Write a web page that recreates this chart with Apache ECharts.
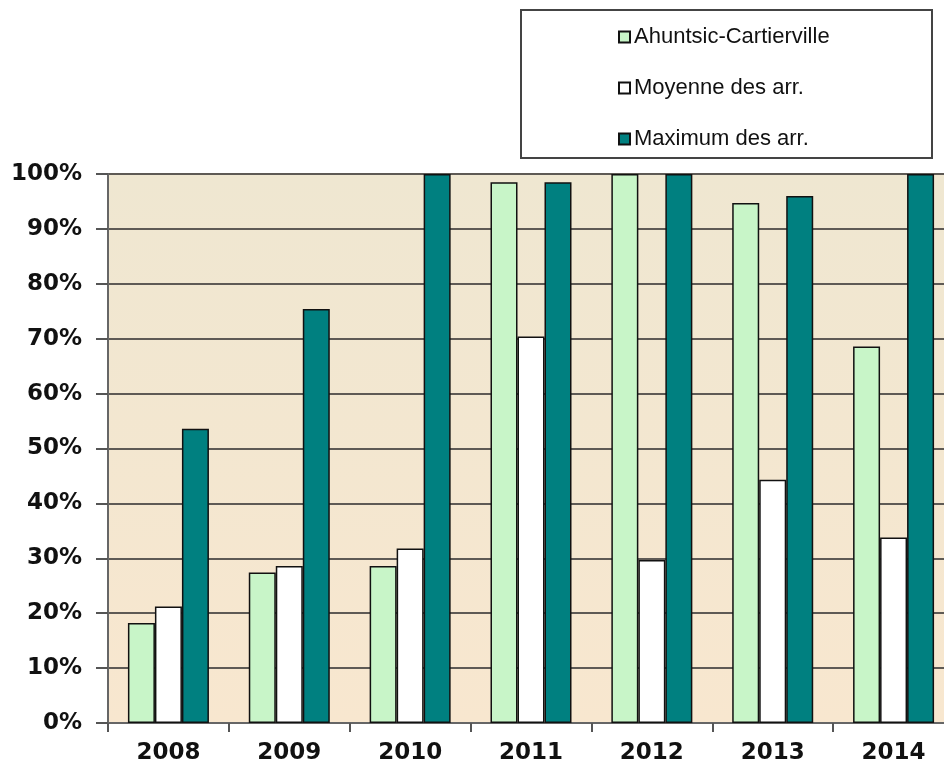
<!DOCTYPE html>
<html>
<head>
<meta charset="utf-8">
<script src="https://cdn.jsdelivr.net/npm/echarts@6/dist/echarts.min.js"></script>
<style>
  html, body { margin: 0; padding: 0; background: #fff; }
  #chart { width: 944px; height: 769px; }
</style>
</head>
<body>
<div id="chart"></div>
<script>
  // data (percent)
  const years = ['2008', '2009', '2010', '2011', '2012', '2013', '2014'];
  const ahuntsic = [18.2, 27.4, 28.6, 98.5, 100, 94.7, 68.6];
  const moyenne = [21.2, 28.6, 31.8, 70.4, 29.7, 44.3, 33.8];
  const maximum = [53.6, 75.4, 100, 98.5, 100, 96, 100];
  const seriesNames = ['Ahuntsic-Cartierville', 'Moyenne des arr.', 'Maximum des arr.'];

  const myChart = echarts.init(document.getElementById('chart'));

  const bar = (name, data, color) => ({
    name: name,
    type: 'bar',
    data: data,
    barWidth: 27,
    barGap: '0%',
    itemStyle: { color: color, borderColor: '#111', borderWidth: 1.5 }
  });

  myChart.setOption({
    animation: false,
    backgroundColor: '#fff',
    textStyle: { fontFamily: 'Liberation Sans, Arial, sans-serif' },
    graphic: [
      {
        type: 'rect',
        shape: { x: 521, y: 10, width: 411, height: 148 },
        style: { fill: '#fff', stroke: '#444', lineWidth: 2 },
        z: 0
      }
    ],
    legend: {
      orient: 'vertical',
      left: 618,
      top: 26,
      padding: 0,
      itemWidth: 11,
      itemHeight: 11,
      itemGap: 29,
      icon: 'rect',
      textStyle: { fontSize: 22, color: '#111', padding: [0, 0, 0, -1] },
      data: seriesNames
    },
    grid: { left: 108, width: 846, top: 174, bottom: 46,
      outerBoundsMode: 'none',
      containLabel: false,
      show: true, borderWidth: 0,
      backgroundColor: new echarts.graphic.LinearGradient(0, 0, 0, 1, [
        { offset: 0, color: '#efe7d1' },
        { offset: 1, color: '#f8e7cf' }
      ])
    },
    xAxis: {
      type: 'category',
      data: years,
      axisLine: { lineStyle: { color: '#666', width: 2 } },
      axisTick: { show: true, length: 9, lineStyle: { color: '#555', width: 2 } },
      axisLabel: { fontSize: 23, fontWeight: 'bold', color: '#111', margin: 19,
        fontFamily: 'DejaVu Sans' }
    },
    yAxis: {
      type: 'value',
      min: 0,
      max: 100,
      interval: 10,
      axisLine: { show: true, lineStyle: { color: '#666', width: 2 } },
      axisTick: { show: true, length: 12, lineStyle: { color: '#555', width: 2 } },
      splitLine: { lineStyle: { color: '#5e5a55', width: 2 } },
      axisLabel: { fontSize: 23, fontWeight: 'bold', color: '#111', margin: 26,
        fontFamily: 'DejaVu Sans', formatter: '{value}%' }
    },
    series: [
      bar(seriesNames[0], ahuntsic, '#c8f5c8'),
      bar(seriesNames[1], moyenne, '#ffffff'),
      bar(seriesNames[2], maximum, '#008080')
    ]
  });
</script>
</body>
</html>
